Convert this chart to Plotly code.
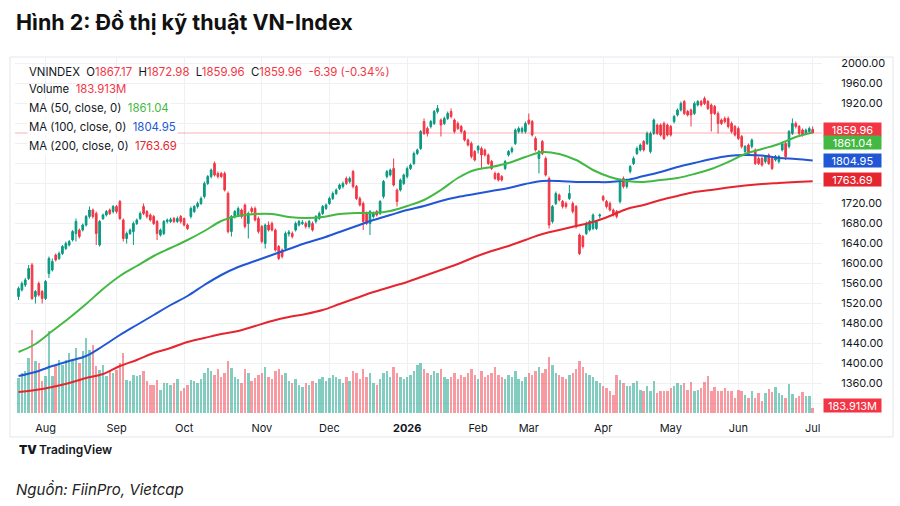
import pandas as pd
import plotly.graph_objects as go

# ---------------- calendar (HOSE trading days) ----------------
holidays = ['2025-09-01', '2025-09-02', '2026-01-01', '2026-02-16', '2026-02-17',
            '2026-02-18', '2026-02-19', '2026-02-20', '2026-04-27', '2026-04-30', '2026-05-01']
days = [d for d in pd.bdate_range('2025-07-22', '2026-07-01') if d.strftime('%Y-%m-%d') not in holidays]
dates = [d.strftime('%Y-%m-%d') for d in days]

# ---------------- OHLC data ----------------
opens = [1533,1546,1556,1569,1596,1533,1559,1543,1529,1579,
         1586,1616,1609,1619,1629,1636,1646,1659,1666,1666,
         1676,1693,1706,1699,1636,1689,1696,1706,1703,1713,
         1723,1686,1649,1659,1663,1679,1689,1713,1703,1696,
         1693,1683,1656,1659,1683,1683,1689,1683,1693,1689,
         1676,1693,1703,1713,1719,1733,1759,1773,1799,1779,
         1779,1779,1739,1663,1693,1696,1706,1716,1679,1709,
         1709,1689,1673,1639,1676,1679,1666,1633,1626,1629,
         1658,1659,1666,1676,1679,1679,1673,1679,1683,1689,
         1699,1709,1719,1729,1739,1749,1753,1769,1763,1783,
         1753,1729,1719,1699,1679,1693,1703,1699,1733,1773,
         1776,1789,1746,1746,1759,1773,1789,1799,1819,1829,
         1883,1869,1873,1879,1903,1886,1879,1889,1903,1886,
         1879,1873,1863,1846,1839,1823,1826,1829,1826,1816,
         1803,1779,1779,1773,1789,1816,1823,1839,1863,1863,
         1863,1886,1883,1849,1809,1843,1809,1769,1683,1719,
         1736,1723,1719,1729,1719,1713,1656,1653,1659,1666,
         1669,1669,1694,1733,1723,1719,1706,1703,1723,1769,
         1753,1783,1799,1819,1826,1843,1839,1823,1859,1876,
         1876,1879,1876,1873,1883,1896,1906,1923,1903,1906,
         1899,1916,1923,1929,1923,1916,1913,1899,1886,1889,
         1889,1879,1873,1869,1853,1823,1836,1833,1826,1809,
         1809,1803,1816,1809,1806,1803,1826,1839,1833,1859,
         1879,1873,1866,1859,1863,1867.17]
highs = [1553,1563,1570,1596,1600,1546,1563,1546,1566,1613,
         1609,1619,1623,1636,1643,1646,1666,1689,1669,1679,
         1696,1713,1709,1703,1686,1699,1706,1709,1716,1716,
         1726,1689,1663,1669,1683,1689,1703,1719,1706,1699,
         1696,1686,1669,1686,1689,1691,1692,1693,1696,1691,
         1679,1713,1716,1723,1733,1763,1776,1789,1803,1783,
         1782,1783,1743,1696,1706,1713,1709,1719,1703,1713,
         1713,1693,1676,1679,1683,1683,1669,1636,1629,1663,
         1666,1663,1683,1686,1686,1683,1686,1683,1696,1703,
         1716,1719,1733,1743,1749,1759,1763,1773,1773,1786,
         1756,1733,1723,1703,1706,1703,1706,1726,1766,1786,
         1789,1809,1749,1769,1779,1793,1799,1823,1829,1866,
         1889,1873,1886,1906,1916,1889,1893,1903,1909,1889,
         1883,1876,1866,1849,1843,1826,1836,1833,1829,1819,
         1806,1783,1781,1776,1806,1826,1833,1869,1873,1873,
         1883,1899,1886,1853,1826,1846,1813,1773,1716,1743,
         1739,1726,1723,1756,1723,1716,1659,1656,1683,1686,
         1699,1686,1699,1736,1726,1723,1709,1706,1769,1773,
         1769,1796,1813,1833,1839,1846,1863,1863,1889,1879,
         1879,1883,1879,1876,1896,1909,1923,1926,1906,1909,
         1923,1926,1926,1933,1926,1919,1916,1903,1889,1893,
         1893,1883,1876,1873,1856,1836,1839,1849,1829,1813,
         1813,1816,1819,1813,1816,1816,1843,1843,1866,1889,
         1883,1876,1869,1869,1873,1872.98]
lows = [1526,1543,1552,1566,1526,1519,1533,1519,1526,1570,
        1583,1603,1606,1616,1626,1633,1643,1643,1649,1663,
        1673,1689,1689,1636,1633,1686,1693,1696,1699,1699,
        1686,1643,1639,1656,1636,1676,1686,1696,1689,1683,
        1676,1646,1653,1656,1679,1680,1680,1680,1679,1673,
        1666,1689,1700,1709,1716,1729,1756,1769,1773,1769,
        1770,1743,1659,1653,1689,1693,1689,1669,1649,1699,
        1683,1659,1639,1629,1663,1663,1623,1606,1609,1626,
        1653,1649,1663,1673,1676,1669,1669,1663,1679,1686,
        1696,1706,1716,1726,1736,1746,1749,1756,1759,1749,
        1726,1713,1666,1676,1656,1689,1693,1696,1729,1769,
        1773,1753,1713,1743,1756,1769,1786,1796,1816,1826,
        1856,1853,1869,1876,1899,1853,1876,1886,1889,1859,
        1866,1859,1843,1833,1809,1803,1819,1789,1813,1796,
        1786,1766,1763,1763,1786,1813,1819,1836,1859,1859,
        1859,1876,1853,1823,1779,1816,1773,1669,1679,1716,
        1723,1709,1709,1726,1699,1669,1616,1629,1656,1663,
        1666,1666,1689,1723,1709,1703,1693,1689,1719,1749,
        1749,1779,1796,1816,1823,1823,1836,1819,1856,1856,
        1853,1846,1853,1853,1879,1893,1903,1896,1893,1873,
        1896,1913,1913,1916,1906,1863,1896,1859,1876,1879,
        1869,1859,1853,1846,1829,1819,1816,1829,1796,1796,
        1793,1799,1796,1786,1803,1799,1823,1806,1829,1856,
        1869,1856,1853,1856,1859,1859.96]
closes = [1549,1559,1566,1589,1529,1543,1536,1529,1563,1609,
          1603,1606,1619,1633,1639,1643,1663,1683,1653,1676,
          1693,1706,1693,1659,1683,1696,1703,1699,1713,1703,
          1689,1649,1659,1666,1679,1686,1699,1699,1693,1686,
          1679,1659,1666,1683,1686,1687,1683,1689,1683,1676,
          1669,1709,1713,1719,1729,1759,1773,1786,1776,1773,
          1773,1746,1663,1693,1703,1709,1693,1673,1699,1703,
          1686,1663,1643,1676,1666,1666,1626,1609,1613,1659,
          1662,1653,1679,1683,1681,1673,1683,1666,1693,1699,
          1713,1716,1729,1739,1746,1756,1759,1759,1769,1753,
          1729,1716,1683,1679,1703,1699,1696,1723,1763,1783,
          1786,1756,1723,1766,1776,1789,1796,1819,1826,1863,
          1859,1859,1883,1903,1909,1876,1889,1899,1893,1863,
          1869,1863,1846,1836,1813,1806,1833,1816,1816,1799,
          1789,1769,1766,1766,1803,1823,1829,1866,1869,1869,
          1879,1879,1856,1826,1823,1819,1776,1676,1713,1739,
          1726,1713,1713,1739,1703,1673,1619,1633,1679,1683,
          1696,1683,1696,1726,1713,1706,1696,1693,1766,1753,
          1766,1793,1809,1829,1836,1826,1859,1859,1886,1859,
          1856,1849,1856,1856,1893,1906,1919,1899,1896,1896,
          1919,1923,1916,1919,1909,1899,1899,1879,1879,1883,
          1873,1863,1856,1849,1833,1833,1819,1846,1799,1799,
          1796,1813,1799,1789,1813,1813,1839,1813,1863,1879,
          1873,1859,1856,1866,1869,1859.96]
# volume, millions of shares
volumes = [1260,1440,1512,1980,2988,1872,1800,1152,1332,2952,
           1332,1692,1908,1728,1908,2160,1908,2340,1800,2232,
           2700,2268,2448,1692,1548,1728,1332,1548,1440,1548,
           1800,2160,1188,1152,1368,1332,1368,1512,1152,1008,
           1008,1188,828,1080,1080,1008,1080,1224,792,900,
           1008,1188,1152,
           1080,1224,1440,1620,1512,1368,1584,1296,
           1440,1872,1620,1296,1224,1080,1584,1440,1152,1260,1368,
           1440,1656,1296,1224,1512,1584,1368,1440,1152,
           1080,1224,1008,936,1080,1008,1152,1080,1224,1296,1152,
           1260,1368,1296,1224,1080,1296,1152,1512,1440,1224,
           1584,1296,1440,1080,1008,1224,1440,1512,1296,1656,1440,1296,1224,
           1296,1368,1512,1728,1800,1584,1440,1368,1512,1440,1584,1296,1224,
           1296,1440,1224,1368,1296,1440,1584,1368,1224,1512,1296,1368,1440,1656,1368,1296,
           1224,1368,1296,1512,1224,1152,1296,1440,1368,1512,1656,1440,1584,
           2016,1728,1440,1368,1296,1224,1368,1440,1584,1872,1656,1440,1368,1296,1152,
           1080,972,900,792,648,1368,1188,1080,972,972,
           1080,1152,828,792,972,792,1152,720,792,792,
           792,900,972,1080,1008,1080,828,1116,792,828,
           900,1116,1332,792,936,792,792,900,792,792,
           540,828,792,648,540,792,540,720,432,720,
           864,756,936,720,648,540,1044,684,540,612,
           756,612,612,183.913]

# moving averages sampled every 5 sessions
ma_dates = dates[::5]
ma50 = [1422,1438,1464,1490,1518,1548,1574,1594,1614,1630,1646,1664,1684,1694,1698,1698,
        1692,1690,1692,1698,1700,1700,1704,1714,1726,1746,1770,1786,1792,1800,1812,1822,
        1818,1806,1786,1772,1764,1762,1766,1770,1778,1788,1802,1818,1828,1838,1852,1861.04]
ma100 = [1374,1382,1394,1404,1414,1434,1456,1476,1496,1516,1534,1556,1576,1592,1604,1616,
         1628,1640,1650,1662,1674,1686,1696,1706,1714,1724,1732,1738,1744,1750,1758,1764,
         1764,1762,1762,1762,1766,1774,1782,1792,1800,1808,1814,1816,1815,1810,1808,1804.95]
ma200 = [1342,1346,1352,1360,1370,1378,1394,1406,1420,1430,1442,1450,1458,1464,1474,1484,
         1492,1498,1506,1518,1530,1542,1552,1562,1574,1586,1598,1612,1624,1634,1646,1658,
         1666,1674,1682,1694,1708,1716,1726,1734,1742,1746,1751,1755,1758,1760,1762,1763.69]

month_labels = ['Aug', 'Sep', 'Oct', 'Nov', 'Dec', '<b>2026</b>', 'Feb', 'Mar', 'Apr', 'May', 'Jun', 'Jul']
seen, month_ticks = set(), []
for d in days:
    if (d.year, d.month) not in seen:
        seen.add((d.year, d.month))
        month_ticks.append(d.strftime('%Y-%m-%d'))
month_ticks = month_ticks[1:]

price_ticks = [2000, 1960, 1920, 1880, 1840, 1800, 1760, 1720, 1680, 1640, 1600, 1560,
               1520, 1480, 1440, 1400, 1360, 1320]
hidden_ticks = [1880, 1840, 1800, 1760, 1320]   # sit behind the value boxes
price_text = ['' if v in hidden_ticks else f'{v:.2f}' for v in price_ticks]

UP, DN = '#089981', '#f23645'
GREEN, BLUE, RED = '#43b943', '#2156d4', '#e5262f'
FONT = 'Inter'

vol_colors = ['rgba(8,153,129,0.5)' if c >= o else 'rgba(242,54,69,0.5)' for o, c in zip(opens, closes)]

fig = go.Figure()
fig.add_trace(go.Bar(x=dates, y=volumes, marker=dict(color=vol_colors, line=dict(width=0)),
                     width=0.72, yaxis='y', hoverinfo='skip'))
fig.add_trace(go.Candlestick(x=dates, open=opens, high=highs, low=lows, close=closes, yaxis='y2',
                             increasing=dict(line=dict(color=UP, width=1), fillcolor=UP),
                             decreasing=dict(line=dict(color=DN, width=1), fillcolor=DN),
                             whiskerwidth=0))
fig.add_trace(go.Scatter(x=ma_dates, y=ma200, mode='lines', line=dict(color=RED, width=2, shape='spline'), yaxis='y2'))
fig.add_trace(go.Scatter(x=ma_dates, y=ma100, mode='lines', line=dict(color=BLUE, width=2, shape='spline'), yaxis='y2'))
fig.add_trace(go.Scatter(x=ma_dates, y=ma50, mode='lines', line=dict(color=GREEN, width=2, shape='spline'), yaxis='y2'))

grid = '#eef0f4'
fig.update_layout(
    width=900, height=506, margin=dict(l=15, r=78, t=58, b=93),
    paper_bgcolor='white', plot_bgcolor='white', showlegend=False,
    font=dict(family=FONT, color='#131722', size=11),
    bargap=0,
    xaxis=dict(type='category', range=[-1.04, 237.76], tickvals=month_ticks, ticktext=month_labels,
               showgrid=True, gridcolor=grid, gridwidth=1, zeroline=False, showline=False,
               ticks='outside', ticklen=5, tickcolor='rgba(0,0,0,0)', tickfont=dict(size=11, color='#131722'),
               rangeslider=dict(visible=False), fixedrange=True),
    yaxis=dict(range=[0, 12780], visible=False, showgrid=False, zeroline=False, fixedrange=True),
    yaxis2=dict(range=[1300, 2010], overlaying='y', side='right', tickvals=price_ticks, ticktext=price_text,
                showgrid=True, gridcolor=grid, zeroline=False, showline=False,
                ticks='outside', ticklen=16, tickcolor='rgba(0,0,0,0)',
                tickfont=dict(size=11, color='#131722'), fixedrange=True),
)

# panel frame
fig.add_shape(type='rect', xref='paper', yref='paper', x0=-0.0062, x1=1.088, y0=-0.0676, y1=1.0028,
              line=dict(color='#e3e6ec', width=1), layer='below')
# last price line
fig.add_shape(type='line', xref='paper', yref='y2', x0=0, x1=1, y0=1859.96, y1=1859.96,
              line=dict(color='rgba(242,54,69,0.4)', width=1))

ann = []
def txt(x, y, t, size=11, color='#131722', weight='normal', **kw):
    ann.append(dict(xref='paper', yref='paper', x=x, y=y, text=t, showarrow=False, xanchor='left',
                    yanchor='middle', font=dict(size=size, color=color, family=FONT, weight=weight), **kw))

sp = '\u00a0'
def r(v):
    return f"<span style='color:{DN}'>{v}</span>"

txt(-0.0012, 1.1014, 'Hình 2: Đồ thị kỹ thuật VN-Index', size=21.5, color='#111111', weight=700)
txt(0.0149, 0.9606, f"VNINDEX{sp}{sp}O{r('1867.17')}{sp}{sp}H{r('1872.98')}{sp}{sp}L{r('1859.96')}{sp}{sp}C{r('1859.96')}{sp}{sp}{r('-6.39 (-0.34%)')}", size=11.4)
txt(0.0149, 0.9127, f"Volume{sp}{sp}{r('183.913M')}", size=11.4)
txt(0.0149, 0.8592, f"MA (50, close, 0){sp}{sp}<span style='color:{GREEN}'>1861.04</span>", size=11.4, bgcolor='white')
txt(0.0149, 0.8056, f"MA (100, close, 0){sp}{sp}<span style='color:{BLUE}'>1804.95</span>", size=11.4, bgcolor='white')
txt(0.0149, 0.7521, f"MA (200, close, 0){sp}{sp}<span style='color:{RED}'>1763.69</span>", size=11.4, bgcolor='white')
txt(0.0025, -0.1042, "TV", size=12, color='#131722', weight=900)
txt(0.0275, -0.1042, "TradingView", size=12, color='#131722', weight=600)
txt(-0.0012, -0.2169, '<i>Nguồn: FiinPro, Vietcap</i>', size=15, color='#222222')

# right-axis value boxes
def box(yref, y, t, bg, yshift=0):
    ann.append(dict(xref='paper', yref=yref, x=1, y=y, text=t, showarrow=False, xanchor='left',
                    yanchor='middle', xshift=1, yshift=yshift, bgcolor=bg, width=55, height=11,
                    font=dict(size=11, color='white', family=FONT), borderpad=1))

box('y2', 1859.96, '1859.96', DN, yshift=4)
box('y2', 1861.04, '1861.04', GREEN, yshift=-10)
box('y2', 1804.95, '1804.95', BLUE)
box('y2', 1763.69, '1763.69', RED, yshift=2)
box('y', 183.913, '183.913M', DN, yshift=2)

fig.update_layout(annotations=ann)
fig.write_html('out.html', config={'displayModeBar': False})
